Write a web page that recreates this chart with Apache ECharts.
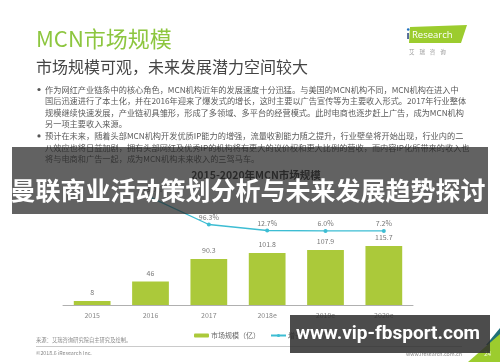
<!DOCTYPE html>
<html>
<head>
<meta charset="utf-8">
<script src="https://cdn.jsdelivr.net/npm/echarts@6/dist/echarts.min.js"></script>
<style>
html,body{margin:0;padding:0;background:#fff;}
#main{width:500px;height:362px;}
</style>
</head>
<body>
<div id="main"></div>
<script>
// ---- data ----
const categories = ['2015', '2016', '2017', '2018e', '2019e', '2020e'];
const marketSize = [8, 46, 90.3, 101.8, 107.9, 115.7];
const growthRate = [null, 475.0, 96.3, 12.7, 6.0, 7.2];
const seriesNames = ['市场规模（亿）', '增长率（%）'];
const pageTitle = 'MCN市场规模';
const pageSubtitle = '市场规模可观，未来发展潜力空间较大';
const chartTitle = '2015-2020年MCN市场规模';
const bulletLines = [
  '作为网红产业链条中的核心角色，MCN机构近年的发展速度十分迅猛。与美国的MCN机构不同，MCN机构在进入中',
  '国后迅速进行了本土化，并在2016年迎来了爆发式的增长，这时主要以广告宣传等为主要收入形式。2017年行业整体',
  '规模继续快速发展，产业链初具雏形，形成了多领域、多平台的经营模式。此时电商也逐步赶上广告，成为MCN机构',
  '另一项主要收入来源。',
  '预计在未来，随着头部MCN机构开发优质IP能力的增强，流量收割能力随之提升，行业壁垒将开始出现，行业内的二',
  '八效应也将日益加剧，拥有头部网红及优秀IP的机构将有更大的议价权和更大比例的营收，而内容IP化所带来的收入也',
  '将与电商和广告一起，成为MCN机构未来收入的三驾马车。'
];
const bulletStarts = [0, 4];
const bannerText = '曼联商业活动策划分析与未来发展趋势探讨';
const watermarkText = 'www.vip-fbsport.com';
const sourceText = '来源：艾瑞咨询研究院自主研究及绘制。';
const copyrightText = '©2018.6 iResearch Inc.';
const siteText = 'www.iresearch.com.cn';
const pageNumber = '24';

const CJK = '"Noto Sans CJK SC", "Noto Sans", sans-serif';

const chart = echarts.init(document.getElementById('main'), null, {renderer: 'canvas'});

const graphics = [];
function txt(x, y, text, opt) {
  opt = opt || {};
  graphics.push({
    type: 'text', x: x, y: y, z: opt.z || 1, zlevel: opt.zlevel || 0,
    style: {
      text: text,
      fill: opt.fill || '#555',
      fontSize: opt.size || 8,
      fontFamily: opt.family || CJK,
      fontWeight: opt.weight || 'normal',
      align: opt.align || 'left',
      verticalAlign: 'middle'
    }
  });
}

// header
txt(36, 39, pageTitle, {fill: '#8dc63f', size: 22});
txt(36, 67, pageSubtitle, {fill: '#454545', size: 16});

// logo
graphics.push({type: 'polygon', z: 1, shape: {points: [[410, 27], [467, 25], [461, 43], [409, 43]]}, style: {fill: '#9ccc2e'}});
txt(412, 35, 'Research', {fill: '#fff', size: 9.5, family: '"Open Sans", sans-serif'});
txt(406.5, 36, 'ı', {fill: '#23407a', size: 10, family: '"Open Sans", sans-serif', weight: 'bold'});
graphics.push({type: 'circle', z: 2, shape: {cx: 408.2, cy: 29.5, r: 1.3}, style: {fill: '#1f6fc0'}});
txt(409, 51.5, '艾    瑞    咨    询', {fill: '#999', size: 5.5});

// bullets
const lineY0 = 89.5, lineStep = 11.6;
bulletLines.forEach(function (l, i) {
  const y = lineY0 + i * lineStep;
  if (bulletStarts.indexOf(i) >= 0) {
    graphics.push({type: 'circle', z: 1, shape: {cx: 39, cy: y, r: 1.6}, style: {fill: '#555'}});
  }
  txt(45, y, l, {fill: '#5a5a5a', size: 8.2});
});

// footer
txt(36, 339.5, sourceText, {fill: '#8a8a8a', size: 5.3});
graphics.push({type: 'line', z: 1, shape: {x1: 36, y1: 346.5, x2: 462, y2: 346.5}, style: {stroke: '#bdbdbd', lineWidth: 0.8}});
txt(36, 353, copyrightText, {fill: '#8a8a8a', size: 5.3});
txt(462, 353.5, siteText, {fill: '#8a8a8a', size: 5.3, align: 'right'});
graphics.push({type: 'polygon', z: 1, shape: {points: [[486, 345], [500, 328], [500, 345]]}, style: {fill: '#1f6f78'}});
graphics.push({type: 'polygon', z: 1, shape: {points: [[468, 362], [500, 334], [500, 362]]}, style: {fill: '#9ccc2e'}});
txt(484, 353.5, pageNumber, {fill: '#f2f7dc', size: 6.5});

// overlays
graphics.push({type: 'rect', z: 100, shape: {x: 12, y: 147, width: 476, height: 67}, style: {fill: 'rgba(38,38,38,0.72)'}});
txt(248, 190.5, bannerText, {fill: '#ffffff', size: 25, weight: 'bold', align: 'center', z: 101});
graphics.push({type: 'rect', z: 100, shape: {x: 290, y: 315, width: 200, height: 38}, style: {fill: 'rgba(45,45,45,0.85)'}});
txt(388, 334.5, watermarkText, {fill: '#ffffff', size: 19, weight: 'bold', align: 'center', family: 'Roboto, "Open Sans", sans-serif', z: 101});

const option = {
  backgroundColor: '#ffffff',
  animation: false,
  title: {
    text: chartTitle,
    left: 251, top: 164.5, textAlign: 'center',
    textStyle: {fontSize: 10.5, fontWeight: 'bold', color: '#333', fontFamily: CJK}
  },
  legend: {
    data: seriesNames,
    left: 189, top: 327,
    itemWidth: 15, itemHeight: 4, itemGap: 10,
    textStyle: {fontSize: 7, color: '#666', fontFamily: CJK, padding: [0, 0, 0, -3]}
  },
  grid: [
    {left: 63, right: 87, top: 233.6, bottom: 57},
    {left: 63, right: 87, top: 195.5, bottom: 130.6}
  ],
  xAxis: [
    {type: 'category', gridIndex: 0, data: categories,
      axisLine: {lineStyle: {color: '#b0b0b0', width: 1}},
      axisTick: {show: false},
      axisLabel: {fontSize: 7, color: '#888', margin: 7, fontFamily: CJK}},
    {type: 'category', gridIndex: 1, data: categories, show: false}
  ],
  yAxis: [
    {type: 'value', gridIndex: 0, min: 0, max: 140, show: false, splitLine: {show: false}},
    {type: 'value', gridIndex: 1, min: 0, max: 500, show: false, splitLine: {show: false}}
  ],
  series: [
    {
      name: seriesNames[0], type: 'bar', xAxisIndex: 0, yAxisIndex: 0,
      data: marketSize, barWidth: '63%',
      itemStyle: {color: '#abc93a'},
      label: {show: true, position: 'top', distance: 5, fontSize: 7, color: '#777', fontFamily: CJK}
    },
    {
      name: seriesNames[1], type: 'line', xAxisIndex: 1, yAxisIndex: 1,
      data: growthRate, symbol: 'circle', symbolSize: 4, showAllSymbol: true,
      lineStyle: {color: '#3dbdd3', width: 1.3},
      itemStyle: {color: '#3dbdd3'},
      label: {show: true, position: 'top', distance: 2, fontSize: 7, color: '#777', fontFamily: CJK,
        formatter: function (p) { return Number(p.value).toFixed(1) + '%'; }}
    }
  ],
  graphic: graphics
};
chart.setOption(option);
</script>
</body>
</html>
